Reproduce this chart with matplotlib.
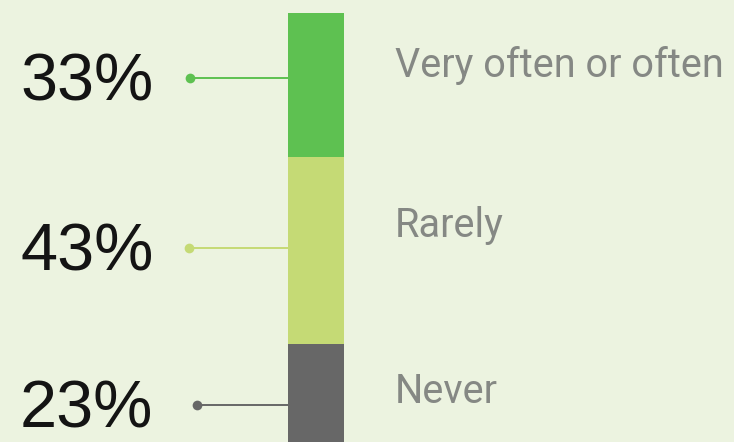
import matplotlib
matplotlib.use("Agg")
import matplotlib.pyplot as plt

# Survey shares, top to bottom of the stacked bar
categories = ["Very often or often", "Rarely", "Never"]
values = [33, 43, 23]
labels = ["33%", "43%", "23%"]

colors = ["#5ec151", "#c5da75", "#676767"]
bg = "#ecf3e0"

W, H = 734, 442
fig = plt.figure(figsize=(W / 100, H / 100), dpi=100, facecolor=bg)
ax = fig.add_axes([0, 0, 1, 1], facecolor=bg)

px_per_unit = 4.35
top_px = 13
ax.set_xlim(0, W)
ax.set_ylim((H - top_px) / px_per_unit, -top_px / px_per_unit)
ax.axis("off")

bar_x, bar_w = 316, 56
# leader line offset (in % units) from each segment's middle, dot x,
# and baseline shift of the category name relative to the leader line
offsets = [-1.6, -0.5, 2.6]
dot_x = [190, 189, 197]
name_shift = [-0.3, -2.5, -0.5]

bottom = 0
for cat, val, lab, col, off, dx, ns in zip(categories, values, labels, colors,
                                           offsets, dot_x, name_shift):
    ax.bar(bar_x, val, width=bar_w, bottom=bottom, color=col, linewidth=0)
    y = bottom + val / 2 + off
    ax.plot([dx, bar_x - bar_w / 2], [y, y], color=col, lw=1.4, solid_capstyle="butt")
    ax.plot(dx, y, "o", color=col, ms=7, mec="none")
    ax.text(20, y + 5.2, lab, ha="left", va="baseline", fontsize=48,
            color="#141414", family="Liberation Sans")
    ax.text(395, y + ns, cat, ha="left", va="baseline", fontsize=28.5,
            color="#858884", family="Roboto")
    bottom += val

fig.savefig("out.png", dpi=100, facecolor=bg)
